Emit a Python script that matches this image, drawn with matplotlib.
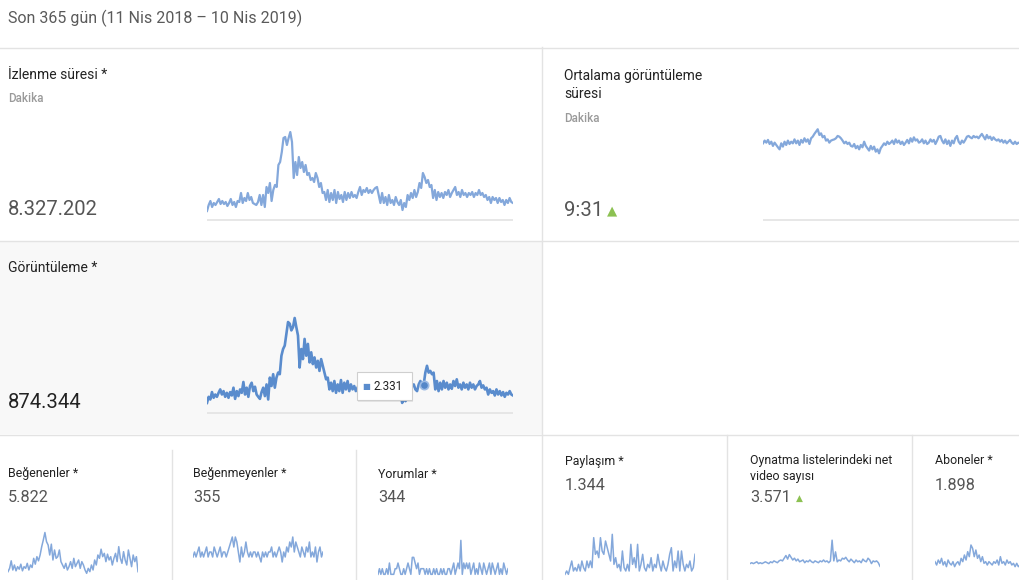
import matplotlib
matplotlib.use('Agg')
import matplotlib.pyplot as plt
from matplotlib.lines import Line2D
from matplotlib.patches import Rectangle

# YouTube Analytics overview, last 365 days
period_label = 'Son 365 gün (11 Nis 2018 – 10 Nis 2019)'

# izlenme süresi, thousand minutes per day
watch_time = [9, 15, 19, 13, 17, 15, 18, 21, 16, 19, 16, 18, 14, 17, 21, 15, 18, 13, 19, 18,
              27, 17, 22, 19, 27, 20, 23, 17, 16, 15, 18, 25, 15, 25, 13, 33, 27, 37, 19, 30,
              35, 33, 55, 58, 68, 82, 83, 75, 82, 88, 78, 42, 58, 45, 63, 52, 58, 48, 55, 45,
              47, 40, 42, 38, 47, 42, 33, 37, 27, 28, 20, 30, 18, 27, 20, 30, 17, 28, 21, 25,
              18, 28, 20, 27, 22, 28, 23, 25, 22, 28, 33, 25, 30, 28, 32, 27, 30, 27, 30, 32,
              33, 25, 17, 27, 17, 23, 15, 25, 17, 20, 15, 23, 18, 15, 20, 10, 17, 13, 25, 20,
              27, 22, 30, 23, 28, 37, 32, 47, 43, 37, 40, 33, 35, 22, 30, 20, 28, 23, 27, 22,
              28, 25, 30, 23, 27, 30, 33, 25, 28, 23, 30, 25, 27, 23, 27, 25, 28, 23, 27, 25,
              30, 25, 27, 23, 25, 20, 23, 17, 23, 20, 22, 17, 22, 18, 20, 15, 20, 17, 22, 18, 17]
watch_time_total = '8.327.202'

# ortalama görüntüleme süresi, seconds (visible part of the card)
avg_duration = [561, 581, 566, 586, 556, 573, 542, 566, 549, 532, 517, 561, 537, 573, 549, 581,
                556, 573, 561, 590, 561, 581, 549, 586, 566, 598, 573, 590, 556, 598, 610, 630,
                647, 664, 622, 634, 605, 615, 581, 590, 566, 581, 586, 590, 598, 615, 610, 598,
                581, 561, 573, 556, 566, 542, 537, 556, 525, 542, 517, 549, 532, 573, 542, 525,
                508, 542, 517, 537, 500, 517, 488, 525, 542, 561, 549, 573, 556, 566, 581, 556,
                590, 566, 581, 556, 573, 549, 566, 586, 561, 598, 573, 605, 581, 590, 566, 573,
                590, 561, 581, 556, 566, 590, 573, 586, 556, 581, 610, 615, 581, 561, 590, 556,
                581, 542, 581, 561, 598, 615, 573, 556, 581, 566, 586, 610, 615, 605, 598, 615,
                605, 610, 598, 615, 630, 610, 590, 622, 598, 610, 586, 605, 590, 581, 590, 573,
                586, 566, 581, 561, 573, 586, 566, 556, 573, 556, 566, 561]
avg_duration_total = '9:31'

# görüntüleme, views per day
views = [830, 1330, 1110, 1720, 1250, 1520, 1330, 1660, 1940, 1520, 1800, 1330, 1660, 1250,
         1720, 1440, 2080, 1160, 1800, 1390, 1940, 1660, 2550, 1520, 2080, 1330, 2220, 2490,
         1800, 2160, 1520, 1330, 1160, 1720, 2080, 1390, 2350, 1110, 2910, 2220, 3190, 2080,
         2910, 3320, 3190, 4710, 5260, 5540, 6510, 7480, 7340, 6790, 7060, 7810, 7060, 6370,
         3740, 5260, 4430, 6090, 4710, 5680, 4160, 4990, 4020, 4570, 3740, 4290, 3460, 4430,
         3880, 3320, 2770, 2910, 1940, 2490, 1800, 2630, 1660, 2350, 1800, 2710, 1660, 2490,
         1940, 2630, 1800, 2350, 1940, 2220, 1800, 2080, 2350, 2080, 2490, 2770, 2220, 2630,
         2490, 2770, 2350, 2630, 2350, 2630, 2770, 2910, 2220, 1660, 2350, 1660, 2080, 1520,
         2220, 1660, 1940, 1520, 2080, 1660, 830, 1250, 970, 1330, 1800, 1660, 2220, 2350,
         1940, 1800, 2350, 2630, 2350, 2331, 3320, 3880, 3320, 3460, 3190, 3320, 1940, 2630,
         1800, 2490, 1940, 2630, 2080, 2490, 1940, 2350, 1990, 2630, 2220, 2770, 2080, 2350,
         1940, 2490, 2080, 2350, 1940, 2490, 2080, 2350, 1940, 2220, 2350, 2630, 2080, 2270,
         1940, 2080, 1520, 1940, 1660, 1800, 1440, 1940, 1520, 1800, 1440, 1720, 1330, 1660,
         1520, 1800, 1520, 1440]
views_total = '874.344'
tooltip_value = 2331

likes = [10, 14, 23, 12, 18, 11, 16, 13, 19, 11, 16, 14, 20, 12, 18, 15, 26, 19, 28, 23, 30,
         40, 48, 57, 46, 42, 30, 43, 24, 36, 26, 28, 36, 22, 18, 14, 20, 12, 16, 22, 14, 26,
         16, 20, 24, 14, 22, 18, 12, 8, 14, 10, 18, 12, 24, 18, 30, 26, 37, 28, 32, 22, 31,
         24, 28, 18, 26, 32, 22, 40, 26, 20, 34, 24, 18, 36, 26, 16, 30, 22, 28, 10]
dislikes = [0, 1, 0, 1, 2, 0, 1, 0, 1, 2, 0, 1, 1, 0, 2, 1, 0, 1, 2, 0, 1, 1, 0, 1, 2, 3, 4,
            2, 4, 3, 1, -1, 2, 0, 1, 3, 1, 0, 1, 0, 1, 1, 0, 1, 0, -1, 1, 0, 1, 0, 1, 1, 2, 0,
            1, 0, 1, 2, 1, -1, 1, 0, 2, 1, 3, 2, 4, 1, 3, 2, 1, 0, 2, 1, 0, 2, 1, 3, 0, 1, 0,
            2, -1, 1, 2, 0, 1]
comments = [0, 1, 0, 1, 0, 0, 1, 0, 2, 0, 0, 0, 1, 1, 2, 1, 0, 0, 1, 0, 1, 2, 1, 0, 3, 3, 2,
            1, 2, 0, 1, 1, 1, 0, 1, 0, 1, 0, 0, 1, 0, 1, 0, 0, 1, 0, 1, 0, 0, 1, 1, 0, 1, 2,
            0, 1, 2, 1, 6, 0, 2, 1, 2, 1, 2, 0, 1, 2, 0, 1, 0, 2, 1, 0, 2, 1, 0, 1, 2, 0, 2,
            1, 0, 1, 2, 0, 1, 0, 2, 1, 0, 1]
shares = [0, 1, 0, 2, 4, 1, 2, 1, 3, 1, 4, 2, 1, 4, 2, 4, 2, 11, 6, 7, 5, 11, 7, 6, 10, 8,
          6, 4, 12, 3, 5, 2, 3, 1, 7, 2, 1, 3, 1, 9, 3, 5, 2, 9, 1, 3, 6, 2, 1, 3, 2, 5, 1,
          3, 2, 6, 3, 1, 4, 2, 1, 3, 6, 8, 1, 4, 2, 7, 1, 7, 3, 1, 3, 2, 4, 1, 2, 6]
playlist_net = [9, 10, 9, 10, 11, 9, 10, 9, 10, 11, 10, 9, 11, 10, 12, 11, 10, 12, 13, 12,
                15, 18, 14, 19, 16, 13, 15, 12, 14, 11, 12, 13, 10, 12, 11, 13, 11, 10, 12, 11,
                10, 12, 11, 13, 11, 12, 10, 12, 35, 12, 22, 11, 13, 12, 15, 14, 16, 13, 11, 14,
                12, 10, 13, 11, 12, 10, 14, 12, 11, 15, 13, 9, 12, 11, 12, 10, 6]
subscribers = [6, 4, 7, 5, 8, 4, 6, 3, 7, 5, 4, 6, 3, 5, 6, 4, 8, 6, 10, 7, 12, 9, 16, 14, 9,
               13, 8, 10, 6, 9, 5, 6, 4, 6, 5, 4, 6, 5, 7, 4, 9, 5, 6, 4, 7, 5, 6, 4, 5, 3, 5,
               3, 4]

small_cards = [
    ('Beğenenler *', '5.822', likes, False),
    ('Beğenmeyenler *', '355', dislikes, False),
    ('Yorumlar *', '344', comments, False),
    ('Paylaşım *', '1.344', shares, False),
    ('Oynatma listelerindeki net\nvideo sayısı', '3.571', playlist_net, True),
    ('Aboneler *', '1.898', subscribers, False),
]

W, H = 1020, 580
LIGHT = '#84a8db'
DARK = '#5a8ccd'
GRID = '#e3e3e3'
GREEN = '#8cc152'
FONT = 'Roboto'

plt.rcParams['font.family'] = [FONT, 'DejaVu Sans']
fig = plt.figure(figsize=(W / 100, H / 100), dpi=100)
fig.patch.set_facecolor('white')


def fy(y):
    return 1 - y / H


def hline(y, x0, x1):
    fig.add_artist(Line2D([x0 / W, x1 / W], [fy(y), fy(y)], color=GRID, lw=1))


def vline(x, y0, y1):
    fig.add_artist(Line2D([x / W, x / W], [fy(y0), fy(y1)], color=GRID, lw=1))


def label(x, y, s, size, color, weight='normal', **kw):
    return fig.text(x / W, fy(y), s, fontsize=size, color=color, fontweight=weight,
                    va='center', ha='left', **kw)


def spark(x0, x1, y_top, y_bot, values, ylim, color=LIGHT, lw=1.6, base=False):
    ax = fig.add_axes([x0 / W, fy(y_bot), (x1 - x0) / W, (y_bot - y_top) / H])
    ax.set_axis_off()
    ax.plot(range(len(values)), values, color=color, lw=lw, solid_joinstyle='round')
    ax.set_xlim(0, len(values) - 1)
    ax.set_ylim(*ylim)
    if base:
        ax.axhline(0, color=GRID, lw=1.2)
    return ax


# background of the hovered card
fig.add_artist(Rectangle((0, fy(434)), 542 / W, 193 / H, transform=fig.transFigure,
                         facecolor='#f8f8f8', edgecolor='none', zorder=-5))

# card borders
hline(47.5, 0, W)
hline(240.5, 0, W)
hline(434.5, 0, W)
vline(542.5, 47, H)
vline(171.5, 450, H)
vline(356.5, 450, H)
vline(727.5, 435, H)
vline(912.5, 435, H)

label(8, 18, period_label, 11.5, '#5a5a5a')

# İzlenme süresi
label(8, 75, 'İzlenme süresi *', 10, '#222222')
label(8, 98, 'Dakika', 8.4, '#9a9a9a', weight='medium')
label(8, 210, watch_time_total, 14.6, '#555555')
spark(207, 513, 118, 222, watch_time, (-2, 102), base=True)

# Ortalama görüntüleme süresi
label(564, 85, 'Ortalama görüntüleme\nsüresi', 10, '#222222', linespacing=1.4)
label(564, 118, 'Dakika', 8.4, '#9a9a9a', weight='medium')
label(564, 211, avg_duration_total, 14.6, '#555555')
fig.text(607 / W, fy(211), '▲', fontsize=9.5, color=GREEN, va='center', ha='left',
         family='DejaVu Sans')
spark(763, 1020, 100, 222, avg_duration, (-14.6, 878), base=True)

# Görüntüleme (hovered)
label(8, 268, 'Görüntüleme *', 10, '#222222')
label(8, 403, views_total, 14.6, '#222222')
ax_v = spark(207, 513, 305, 415, views, (-164, 8878), color=DARK, lw=1.9, base=True)
hover = views.index(tooltip_value)
ax_v.plot(hover, views[hover], 'o', ms=6, color='#5587c8', mec='#9dbbe4', mew=1.2)

# tooltip
fig.add_artist(Rectangle((358 / W, fy(402)), 55 / W, 28 / H, transform=fig.transFigure,
                         facecolor='#00000014', edgecolor='none', zorder=4))
fig.add_artist(Rectangle((357 / W, fy(400)), 55 / W, 28 / H, transform=fig.transFigure,
                         facecolor='white', edgecolor='#cfcfcf', lw=0.8, zorder=5))
fig.text(362 / W, fy(386), '■', fontsize=6, color=DARK, va='center', ha='left',
         family='DejaVu Sans', zorder=6)
fig.text(373.5 / W, fy(386), f'{tooltip_value:,}'.replace(',', '.'), fontsize=8.4,
         color='#222222', va='center', ha='left', zorder=6)

# small cards in the bottom row
small_x = [8, 193, 378, 565, 750, 935]
small_w = 130
small_title_y = [474, 474, 474, 461, 461, 461]
small_lims = [(0, 72), (-4.6, 7.4), (-1.0, 9.6), (-1.7, 16.3), (-9.2, 57.4), (-5.0, 31.0)]
for i, (title, total, series, up) in enumerate(small_cards):
    x = small_x[i]
    lines = title.count('\n')
    ty = small_title_y[i] + 7.5 * lines
    label(x, ty, title, 8.9, '#222222', linespacing=1.3)
    vy = small_title_y[i] + 24 + 13 * lines
    label(x, vy, total, 11.7, '#555555')
    if up:
        fig.text((x + 46) / W, fy(vy), '▲', fontsize=6.5, color=GREEN, va='center',
                 ha='left', family='DejaVu Sans')
    x1 = min(x + small_w, W)
    spark(x, x1, 520, 580, series, small_lims[i], lw=1.1)

fig.savefig('out.png', dpi=100)
